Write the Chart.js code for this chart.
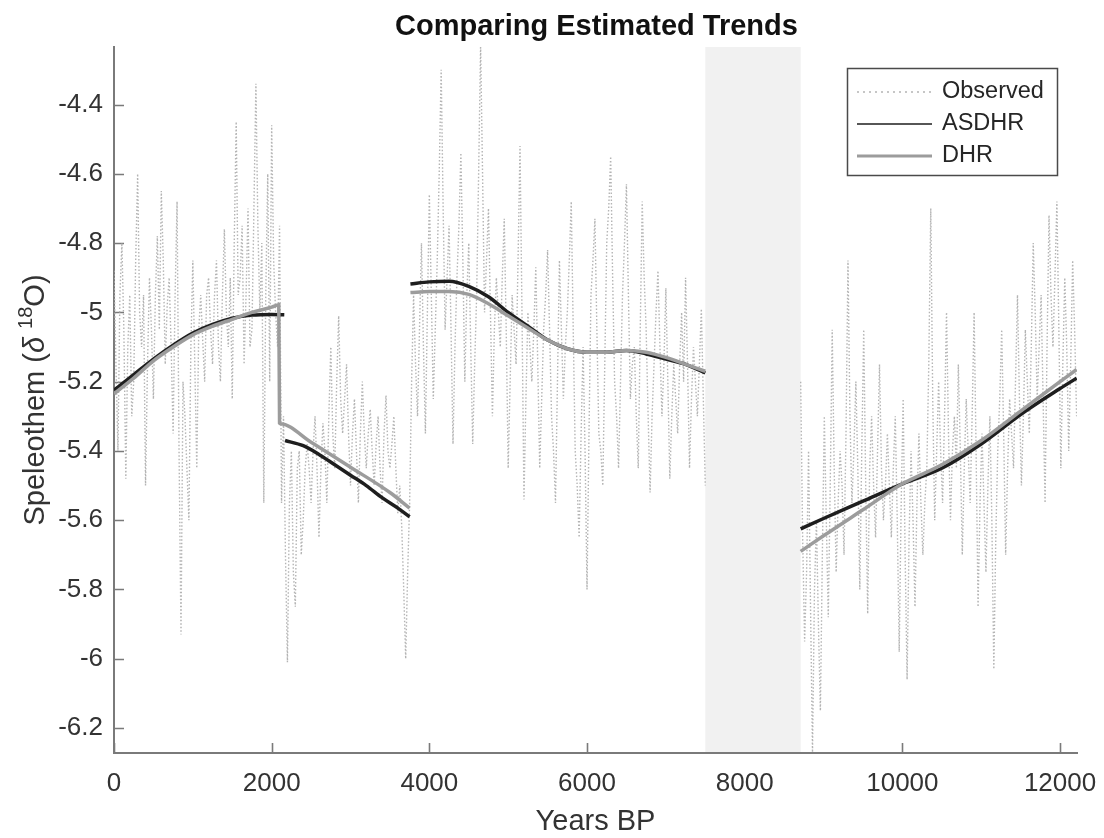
<!DOCTYPE html>
<html>
<head>
<meta charset="utf-8">
<script src="https://cdn.jsdelivr.net/npm/chart.js@4.4.1/dist/chart.umd.min.js"></script>
<style>
  html, body { margin: 0; padding: 0; background: #fff; }
  #chart { display: block; }
</style>
</head>
<body>
<canvas id="chart" width="1104" height="838"></canvas>
<script>
// Axis ticks
const xTicks = [0, 2000, 4000, 6000, 8000, 10000, 12000];
const yTicks = [-6.2, -6, -5.8, -5.6, -5.4, -5.2, -5, -4.8, -4.6, -4.4];
const gapBand = [7500, 8710];

// Observed record, one value every 25 years
const obsStep = 25;
const obsStartA = 0;
const observedA = [
  -4.88, -5.15, -5.40, -4.95, -4.80, -5.05, -5.48, -5.10, -4.95, -5.30,
  -5.20, -4.85, -4.60, -5.00, -5.10, -4.95, -5.50, -5.15, -4.90, -5.05,
  -5.25, -4.95, -4.78, -5.05, -4.65, -4.85, -5.15, -4.98, -4.90, -5.10,
  -5.35, -4.95, -4.68, -5.40, -5.93, -5.20, -5.30, -5.45, -5.60, -5.10,
  -4.85, -5.15, -5.45, -5.05, -4.95, -5.08, -5.20, -4.95, -4.90, -5.05,
  -5.15, -4.95, -4.85, -5.10, -5.20, -4.95, -4.76, -5.00, -5.10, -4.90,
  -5.25, -4.80, -4.45, -4.95, -4.90, -4.75, -5.15, -4.95, -4.70, -5.10,
  -5.05, -4.70, -4.34, -4.75, -5.00, -4.80, -5.55, -4.95, -4.60, -5.20,
  -4.46, -4.85, -5.00, -5.10, -4.75, -5.55, -5.30, -5.70, -6.01, -5.55,
  -5.40, -5.75, -5.85, -5.45, -5.40, -5.70, -5.60, -5.45, -5.38, -5.45,
  -5.55, -5.40, -5.30, -5.45, -5.65, -5.45, -5.32, -5.40, -5.55, -5.30,
  -5.10, -5.35, -5.45, -5.20, -5.01, -5.25, -5.35, -5.25, -5.15, -5.35,
  -5.50, -5.35, -5.25, -5.40, -5.55, -5.35, -5.20, -5.35, -5.45, -5.35,
  -5.28, -5.40, -5.50, -5.38, -5.30, -5.45, -5.55, -5.35, -5.24, -5.40,
  -5.45, -5.38, -5.30, -5.45, -5.58, -5.50, -5.62, -5.80, -6.00, -5.75,
  -5.55, -5.20, -4.95, -5.15, -5.30, -5.05, -4.80, -5.10, -5.35, -5.00,
  -4.66, -4.95, -5.25, -5.05, -4.85, -4.60, -4.30, -4.70, -5.05, -4.90,
  -4.75, -5.05, -5.38, -5.10, -4.90, -4.75, -4.54, -4.85, -5.20, -4.95,
  -4.80, -5.10, -5.38, -5.15, -4.95, -4.60, -4.23, -4.60, -5.00, -4.85,
  -4.70, -5.00, -5.30, -5.05, -4.90, -5.00, -5.10, -4.90, -4.73, -5.05,
  -5.45, -5.20, -4.95, -5.05, -5.15, -4.85, -4.52, -5.00, -5.54, -5.25,
  -5.00, -5.10, -5.20, -5.05, -4.87, -5.15, -5.45, -5.25, -5.05, -4.95,
  -4.82, -5.05, -5.30, -5.40, -5.55, -5.20, -4.85, -5.05, -5.25, -5.10,
  -5.00, -4.85, -4.68, -5.05, -5.40, -5.50, -5.65, -5.35, -5.10, -5.40,
  -5.80, -5.35, -4.95, -4.85, -4.73, -5.05, -5.35, -5.40, -5.50, -5.15,
  -4.80, -4.70, -4.55, -4.90, -5.20, -5.30, -5.45, -5.20, -4.95, -4.80,
  -4.63, -4.95, -5.25, -5.15, -5.10, -5.30, -5.45, -5.05, -4.68, -4.90,
  -5.05, -5.30, -5.52, -5.30, -5.15, -5.00, -4.88, -5.10, -5.30, -5.15,
  -4.93, -5.20, -5.48, -5.30, -5.15, -5.25, -5.35, -5.15, -5.00, -5.20,
  -4.90, -5.15, -5.45, -5.25, -5.10, -5.20, -5.30, -5.15, -4.99, -5.25,
  -5.50
];
const obsStartB = 8710;
const observedB = [
  -5.20, -5.65, -5.95, -5.75, -5.40, -5.85, -6.27, -5.80, -5.60, -5.90,
  -6.15, -5.70, -5.30, -5.60, -5.88, -5.50, -5.05, -5.45, -5.75, -5.55,
  -5.40, -5.50, -5.70, -5.35, -4.85, -5.30, -5.55, -5.40, -5.20, -5.45,
  -5.80, -5.40, -5.05, -5.50, -5.87, -5.45, -5.30, -5.50, -5.65, -5.40,
  -5.15, -5.45, -5.60, -5.50, -5.35, -5.50, -5.65, -5.45, -5.30, -5.60,
  -5.98, -5.55, -5.25, -5.70, -6.06, -5.65, -5.40, -5.60, -5.85, -5.55,
  -5.35, -5.55, -5.70, -5.55, -5.45, -5.15, -4.70, -5.25, -5.60, -5.40,
  -5.20, -5.40, -5.55, -5.30, -5.00, -5.35, -5.60, -5.40, -5.30, -5.45,
  -5.15, -5.40, -5.70, -5.45, -5.25, -5.40, -5.55, -5.30, -5.00, -5.40,
  -5.85, -5.55, -5.35, -5.55, -5.75, -5.50, -5.30, -5.60, -6.03, -5.65,
  -5.40, -5.25, -5.05, -5.35, -5.70, -5.45, -5.25, -5.35, -5.45, -5.20,
  -4.95, -5.25, -5.50, -5.30, -5.05, -5.20, -5.35, -5.10, -4.80, -5.00,
  -5.25, -5.10, -4.95, -5.25, -5.55, -5.10, -4.72, -4.95, -5.10, -4.90,
  -4.68, -5.05, -5.45, -5.15, -4.90, -5.10, -5.40, -5.15, -4.85, -5.05,
  -5.30
];

// Trend estimates (null = break between fitted segments)
const asdhrYears = [0, 250, 500, 750, 1000, 1250, 1500, 1750, 2000, 2160, 2165,
  2170, 2400, 2600, 2800, 3000, 3200, 3400, 3600, 3750, 3755,
  3760, 4000, 4250, 4500, 4750, 5000, 5250, 5500, 5750, 6000, 6250, 6500, 6750, 7000, 7250, 7500, 8000,
  8710, 9000, 9500, 10000, 10500, 11000, 11500, 12000, 12210];
const asdhrValues = [-5.225, -5.18, -5.135, -5.095, -5.06, -5.035, -5.017, -5.008, -5.006, -5.007, null,
  -5.37, -5.385, -5.41, -5.44, -5.47, -5.50, -5.535, -5.565, -5.59, null,
  -4.918, -4.912, -4.91, -4.925, -4.955, -5.0, -5.04, -5.08, -5.105, -5.115, -5.115, -5.11, -5.12, -5.135, -5.15, -5.175, null,
  -5.625, -5.595, -5.545, -5.495, -5.45, -5.38, -5.295, -5.22, -5.19];

const dhrYears = [0, 250, 500, 750, 1000, 1250, 1500, 1750, 2000, 2090,
  2100, 2110, 2500, 3000, 3500, 3750, 3755,
  3760, 4000, 4250, 4500, 4750, 5000, 5250, 5500, 5750, 6000, 6250, 6500, 6750, 7000, 7250, 7500, 8000,
  8710, 9000, 9500, 10000, 10500, 11000, 11500, 12000, 12210];
const dhrValues = [-5.235, -5.19, -5.14, -5.10, -5.065, -5.04, -5.02, -5.0, -4.985, -4.978,
  -5.32, -5.3214, -5.375, -5.447, -5.52, -5.565, null,
  -4.943, -4.94, -4.94, -4.948, -4.975, -5.01, -5.045, -5.08, -5.105, -5.115, -5.115, -5.11, -5.115, -5.13, -5.15, -5.17, null,
  -5.69, -5.645, -5.57, -5.495, -5.44, -5.37, -5.285, -5.2, -5.165];

// Styles
const FONT = "'Liberation Sans', Arial, Helvetica, sans-serif";
const axisColor = "#7a7a7a";
const textColor = "#333333";
const obsColor = "#b4b4b4";
const asdhrColor = "#1e1e1e";
const dhrColor = "#9c9c9c";

// Build point lists
const observedData = [];
observedA.forEach((v, i) => observedData.push({ x: obsStartA + i * obsStep, y: v }));
observedData.push({ x: 8000, y: null });
observedB.forEach((v, i) => observedData.push({ x: obsStartB + i * obsStep, y: v }));

const asdhrData = asdhrYears.map((x, i) => ({ x, y: asdhrValues[i] }));
const dhrData = dhrYears.map((x, i) => ({ x, y: dhrValues[i] }));

// Decorations: inward ticks, shaded band, title, labels, legend
const decor = {
  id: "decor",
  beforeDatasetsDraw(chart) {
    const { ctx, chartArea: a, scales: { x, y } } = chart;
    ctx.save();
    ctx.strokeStyle = axisColor;
    ctx.lineWidth = 1.6;
    ctx.beginPath();
    x.ticks.forEach(t => {
      const px = Math.round(x.getPixelForValue(t.value)) + 0.5;
      ctx.moveTo(px, a.bottom);
      ctx.lineTo(px, a.bottom - 10);
    });
    y.ticks.forEach(t => {
      const py = Math.round(y.getPixelForValue(t.value)) + 0.5;
      ctx.moveTo(a.left, py);
      ctx.lineTo(a.left + 10, py);
    });
    ctx.stroke();

    const x0 = x.getPixelForValue(gapBand[0]);
    const x1 = x.getPixelForValue(gapBand[1]);
    ctx.fillStyle = "#f1f1f1";
    ctx.fillRect(x0, a.top, x1 - x0, a.bottom - a.top - 1);
    ctx.restore();
  },
  afterDraw(chart) {
    const { ctx, chartArea: a } = chart;
    ctx.save();

    // Title
    ctx.fillStyle = "#111";
    ctx.font = "bold 29px " + FONT;
    ctx.textAlign = "center";
    ctx.textBaseline = "middle";
    ctx.fillText("Comparing Estimated Trends", (a.left + a.right) / 2 + 1, 27);

    // X label
    ctx.fillStyle = textColor;
    ctx.font = "29px " + FONT;
    ctx.fillText("Years BP", (a.left + a.right) / 2, 822);

    // Y label with superscript
    ctx.translate(36, (a.top + a.bottom) / 2);
    ctx.rotate(-Math.PI / 2);
    const big = "29px " + FONT;
    const ital = "italic 29px " + FONT;
    const small = "20px " + FONT;
    const parts = [
      { t: "Speleothem (", f: big, dy: 0 },
      { t: "\u03B4", f: ital, dy: 0 },
      { t: " ", f: big, dy: 0 },
      { t: "18", f: small, dy: -10 },
      { t: "O)", f: big, dy: 0 }
    ];
    let total = 0;
    parts.forEach(p => { ctx.font = p.f; p.w = ctx.measureText(p.t).width; total += p.w; });
    let cx = -total / 2;
    ctx.textAlign = "left";
    parts.forEach(p => { ctx.font = p.f; ctx.fillText(p.t, cx, p.dy); cx += p.w; });
    ctx.restore();

    // Legend
    ctx.save();
    ctx.fillStyle = "#fff";
    ctx.fillRect(847, 68, 210, 107);
    ctx.strokeStyle = "#4a4a4a";
    ctx.lineWidth = 1.5;
    ctx.strokeRect(847.5, 68.5, 210, 107);
    const rows = [
      { label: "Observed", color: obsColor, width: 1.5, dash: [2, 4], y: 92 },
      { label: "ASDHR", color: asdhrColor, width: 1.5, dash: [], y: 124 },
      { label: "DHR", color: dhrColor, width: 3, dash: [], y: 156 }
    ];
    rows.forEach(r => {
      ctx.beginPath();
      ctx.setLineDash(r.dash);
      ctx.strokeStyle = r.color;
      ctx.lineWidth = r.width;
      ctx.moveTo(857, r.y);
      ctx.lineTo(932, r.y);
      ctx.stroke();
      ctx.setLineDash([]);
      ctx.fillStyle = "#262626";
      ctx.font = "23.5px " + FONT;
      ctx.textAlign = "left";
      ctx.textBaseline = "middle";
      ctx.fillText(r.label, 942, r.y);
    });
    ctx.restore();
  }
};

new Chart(document.getElementById("chart"), {
  type: "line",
  data: {
    datasets: [
      { label: "DHR", data: dhrData, borderColor: dhrColor, borderWidth: 3.5,
        pointRadius: 0, cubicInterpolationMode: "monotone", spanGaps: false, order: 1 },
      { label: "ASDHR", data: asdhrData, borderColor: asdhrColor, borderWidth: 3.5,
        pointRadius: 0, cubicInterpolationMode: "monotone", spanGaps: false, order: 2 },
      { label: "Observed", data: observedData, borderColor: obsColor, borderWidth: 1.4,
        borderDash: [1.5, 2], pointRadius: 0, tension: 0, spanGaps: false, order: 3 }
    ]
  },
  options: {
    responsive: false,
    devicePixelRatio: 1,
    animation: false,
    layout: { padding: { top: 47, right: 27, left: 0, bottom: 0 } },
    plugins: { legend: { display: false }, title: { display: false }, tooltip: { enabled: false } },
    scales: {
      x: {
        type: "linear",
        min: 0,
        max: 12215,
        afterBuildTicks: s => { s.ticks = xTicks.map(v => ({ value: v })); },
        afterFit: s => { s.height = 85; s.paddingLeft = 0; s.paddingRight = 0; },
        grid: { display: true, drawOnChartArea: false, drawTicks: false },
        border: { display: true, color: axisColor, width: 2 },
        ticks: {
          autoSkip: false, maxRotation: 0, padding: 15, color: textColor,
          font: { size: 26, family: FONT },
          callback: v => String(v)
        }
      },
      y: {
        type: "linear",
        min: -6.272,
        max: -4.234,
        afterBuildTicks: s => { s.ticks = yTicks.map(v => ({ value: v })); },
        afterFit: s => { s.width = 114; s.paddingTop = 0; s.paddingBottom = 0; },
        grid: { display: true, drawOnChartArea: false, drawTicks: false },
        border: { display: true, color: axisColor, width: 2 },
        ticks: {
          autoSkip: false, padding: 11, color: textColor,
          font: { size: 26, family: FONT },
          callback: v => String(Math.round(v * 10) / 10)
        }
      }
    }
  },
  plugins: [decor]
});
</script>
</body>
</html>
